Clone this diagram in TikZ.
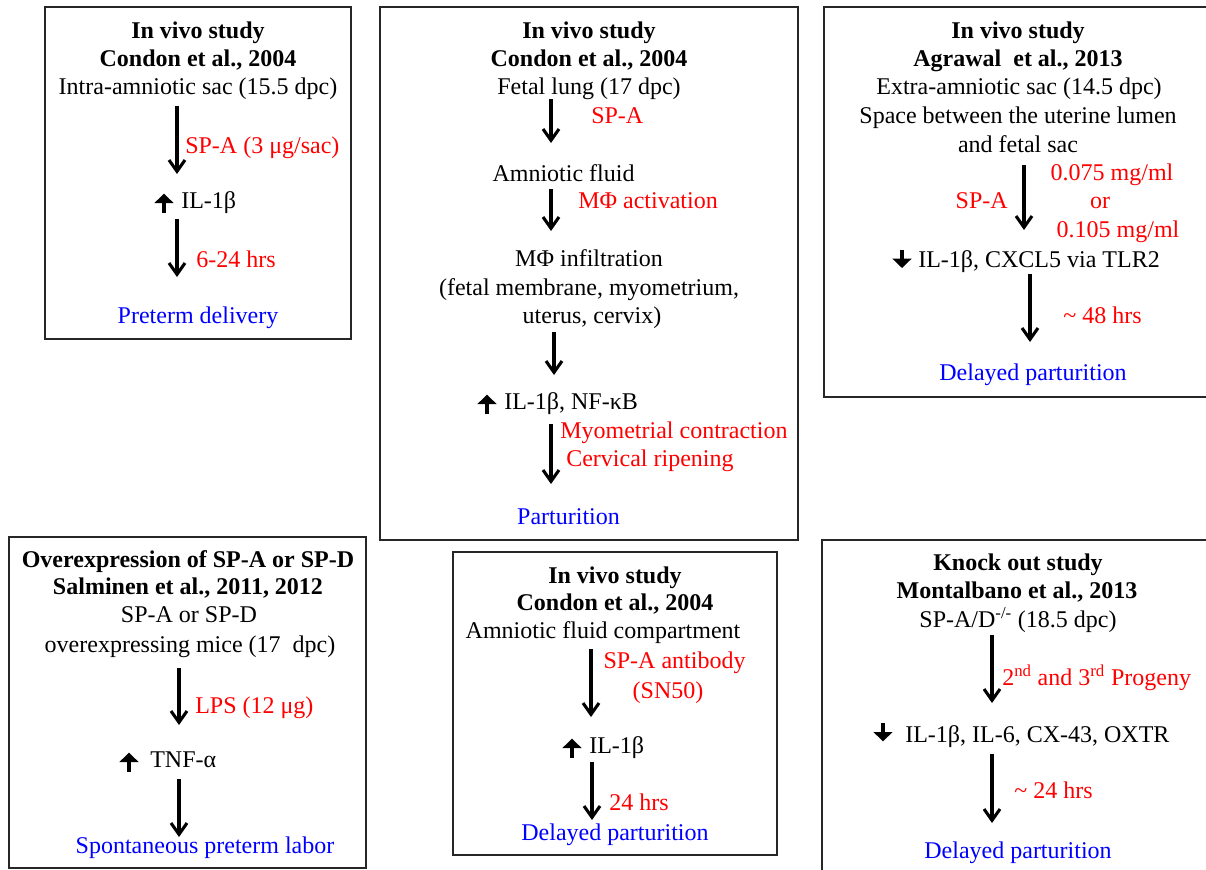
\documentclass[tikz,border=0pt]{standalone}
\usepackage{fontspec}
\setmainfont{Liberation Serif}
\usetikzlibrary{arrows.meta}
\definecolor{myred}{RGB}{255,0,0}
\definecolor{myblue}{RGB}{0,0,255}
\begin{document}
\begin{tikzpicture}[x=0.75pt,y=-0.75pt,
  txt/.style={inner sep=0pt, anchor=base, font=\fontsize{18}{21}\selectfont},
  ttl/.style={txt, font=\fontsize{18}{21}\selectfont\bfseries},
  lbl/.style={txt, anchor=base west, text=myred},
  redc/.style={txt, text=myred},
  res/.style={txt, text=myblue},
  boxline/.style={draw=black!85, line width=1.3pt},
  conn/.style={line width=2.3pt, -{Straight Barb[length=8.5pt,width=12pt]}},
  updown/.style={line width=3.6pt, -{Triangle[length=7pt,width=14pt]}}]
\useasboundingbox (0,0) rectangle (1206,869);
\clip (0,0) rectangle (1206,869);
\fill[white] (0,0) rectangle (1206,869);

% ---------- Box 1 ----------
\draw[boxline] (45,7) rectangle (351,339);
\node[ttl] (b1t1) at (198,38) {In vivo study};
\node[ttl] (b1t2) at (198,66) {Condon et al., 2004};
\node[txt] (b1s) at (198,94) {Intra-amniotic sac (15.5 dpc)};
\node[lbl] (b1l1) at (185,153) {SP-A (3 μg/sac)};
\node[txt, anchor=base west] (b1m) at (181,208) {IL-1β};
\node[lbl] (b1l2) at (196,267) {6-24 hrs};
\node[res] (b1r) at (198,323) {Preterm delivery};
\coordinate (b1a1s) at (177,106); \coordinate (b1a1e) at (177,174);
\coordinate (b1a2s) at (177,219); \coordinate (b1a2e) at (177,277);
\draw[conn] (b1a1s) -- (b1a1e);
\draw[conn] (b1a2s) -- (b1a2e);
\draw[updown] ([xshift=-12.75pt,yshift=-3.5pt]b1m.base west) -- ++(0,-19);

% ---------- Box 2 ----------
\draw[boxline] (380,7) rectangle (798,540);
\node[ttl] (b2t1) at (589,38) {In vivo study};
\node[ttl] (b2t2) at (589,66) {Condon et al., 2004};
\node[txt] (b2s) at (589,94) {Fetal lung (17 dpc)};
\node[lbl] (b2l1) at (591,123) {SP-A};
\node[txt] (b2m1) at (563.5,181) {Amniotic fluid};
\node[lbl] (b2l2) at (578,208) {MΦ activation};
\node[txt] (b2m2) at (589,266) {MΦ infiltration};
\node[txt] (b2m3) at (589,295) {(fetal membrane, myometrium,};
\node[txt] (b2m4) at (592,323) {uterus, cervix)};
\node[txt, anchor=base west] (b2m5) at (504,409) {IL-1β, NF-κB};
\node[lbl] (b2l3) at (560,438) {Myometrial contraction};
\node[lbl] (b2l4) at (566,466.5) {Cervical ripening};
\node[res] (b2r) at (568.5,524) {Parturition};
\coordinate (b2a1s) at (551,99);  \coordinate (b2a1e) at (551,143);
\coordinate (b2a2s) at (551,189); \coordinate (b2a2e) at (551,231);
\coordinate (b2a3s) at (554,332); \coordinate (b2a3e) at (554,375);
\coordinate (b2a4s) at (551,424); \coordinate (b2a4e) at (551,484);
\draw[conn] (b2a1s) -- (b2a1e);
\draw[conn] (b2a2s) -- (b2a2e);
\draw[conn] (b2a3s) -- (b2a3e);
\draw[conn] (b2a4s) -- (b2a4e);
\draw[updown] ([xshift=-12.75pt,yshift=-3.5pt]b2m5.base west) -- ++(0,-19);

% ---------- Box 3 ----------
\draw[boxline] (824,7) rectangle (1215,397);
\node[ttl] (b3t1) at (1018,38) {In vivo study};
\node[ttl] (b3t2) at (1018,66) {Agrawal\ \ et al., 2013};
\node[txt] (b3s1) at (1019,94) {Extra-amniotic sac (14.5 dpc)};
\node[txt] (b3s2) at (1018,123) {Space between the uterine lumen};
\node[txt] (b3s3) at (1018,152) {and fetal sac};
\node[txt, anchor=base east, text=myred] (b3l1) at (1008,208) {SP-A};
\node[redc] (b3d1) at (1112,180) {0.075 mg/ml};
\node[redc] (b3d2) at (1100,208) {or};
\node[redc] (b3d3) at (1118,237) {0.105 mg/ml};
\node[txt, anchor=base west] (b3m) at (918,267) {IL-1β, CXCL5 via TLR2};
\node[lbl] (b3l2) at (1063,323) {\textasciitilde\ 48 hrs};
\node[res] (b3r) at (1033,380) {Delayed parturition};
\coordinate (b3a1s) at (1024,165); \coordinate (b3a1e) at (1024,230);
\coordinate (b3a2s) at (1030,274); \coordinate (b3a2e) at (1030,342);
\draw[conn] (b3a1s) -- (b3a1e);
\draw[conn] (b3a2s) -- (b3a2e);
\draw[updown] ([xshift=-12pt,yshift=12.75pt]b3m.base west) -- ++(0,18);

% ---------- Box 4 ----------
\draw[boxline] (9,537) rectangle (366,868);
\node[ttl] (b4t1) at (188,567) {Overexpression of SP-A or SP-D};
\node[ttl] (b4t2) at (188,594) {Salminen et al., 2011, 2012};
\node[txt] (b4s1) at (189,622) {SP-A or SP-D};
\node[txt] (b4s2) at (190,652) {overexpressing mice (17\ \ dpc)};
\node[lbl] (b4l1) at (195,713) {LPS (12 μg)};
\node[txt, anchor=base west] (b4m) at (150,767) {TNF-α};
\node[res] (b4r) at (205,853) {Spontaneous preterm labor};
\coordinate (b4a1s) at (179,668); \coordinate (b4a1e) at (179,725);
\coordinate (b4a2s) at (179,779); \coordinate (b4a2e) at (179,837);
\draw[conn] (b4a1s) -- (b4a1e);
\draw[conn] (b4a2s) -- (b4a2e);
\draw[updown] ([xshift=-15.75pt,yshift=-3.5pt]b4m.base west) -- ++(0,-19);

% ---------- Box 5 ----------
\draw[boxline] (453,552) rectangle (777,855);
\node[ttl] (b5t1) at (615,583) {In vivo study};
\node[ttl] (b5t2) at (615,610) {Condon et al., 2004};
\node[txt] (b5s) at (603,638) {Amniotic fluid compartment};
\node[redc] (b5l1) at (674.5,668) {SP-A antibody};
\node[redc] (b5l2) at (668,698) {(SN50)};
\node[txt, anchor=base west] (b5m) at (589,753) {IL-1β};
\node[lbl] (b5l3) at (609,810) {24 hrs};
\node[res] (b5r) at (615,840) {Delayed parturition};
\coordinate (b5a1s) at (591,649); \coordinate (b5a1e) at (591,717);
\coordinate (b5a2s) at (592,762); \coordinate (b5a2e) at (592,820);
\draw[conn] (b5a1s) -- (b5a1e);
\draw[conn] (b5a2s) -- (b5a2e);
\draw[updown] ([xshift=-12.75pt,yshift=-3.5pt]b5m.base west) -- ++(0,-19);

% ---------- Box 6 ----------
\draw[boxline] (822,540) rectangle (1215,880);
\node[ttl] (b6t1) at (1018,570) {Knock out study};
\node[ttl] (b6t2) at (1017,598) {Montalbano et al., 2013};
\node[txt] (b6s) at (1018,627) {SP-A/D\textsuperscript{-/-} (18.5 dpc)};
\node[lbl] (b6l1) at (1002,685) {2\textsuperscript{nd} and 3\textsuperscript{rd} Progeny};
\node[txt, anchor=base west] (b6m) at (905,742) {IL-1β, IL-6, CX-43, OXTR};
\node[lbl] (b6l2) at (1014,798) {\textasciitilde\ 24 hrs};
\node[res] (b6r) at (1018,858) {Delayed parturition};
\coordinate (b6a1s) at (992,635); \coordinate (b6a1e) at (992,703);
\coordinate (b6a2s) at (992,754); \coordinate (b6a2e) at (992,823);
\draw[conn] (b6a1s) -- (b6a1e);
\draw[conn] (b6a2s) -- (b6a2e);
\draw[updown] ([xshift=-16.5pt,yshift=14pt]b6m.base west) -- ++(0,18);
\end{tikzpicture}
\end{document}
